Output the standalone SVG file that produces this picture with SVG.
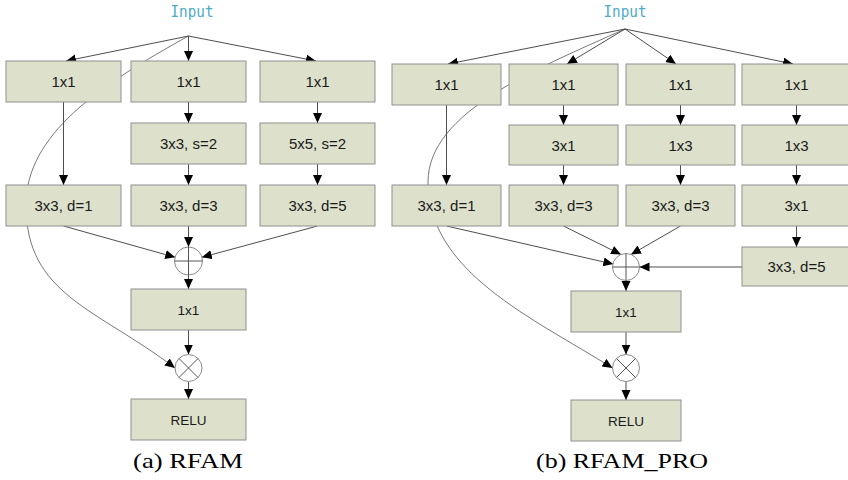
<svg xmlns="http://www.w3.org/2000/svg" width="848" height="480" viewBox="0 0 848 480">
<style>
.box{fill:#dde1cc;stroke:#8f8f8f;stroke-width:1}
.lbl{font-family:"Liberation Sans",Arial,sans-serif;font-size:15px;fill:#1a1a1a;text-anchor:middle}
.sm{font-size:13.5px}
.inp{font-family:"DejaVu Sans Mono",monospace;font-size:16px;fill:#4bacc6;text-anchor:middle}
.cap{font-family:"Liberation Serif","Times New Roman",serif;font-size:21.5px;fill:#000;text-anchor:middle}
.ln{fill:none;stroke:#3a3a3a;stroke-width:0.9;marker-end:url(#ah)}
.cv{fill:none;stroke:#555;stroke-width:0.8;marker-end:url(#ah)}
.op{fill:#fff;stroke:#8a8a8a;stroke-width:1}
.opl{stroke:#555;stroke-width:1}
</style>
<defs>
<marker id="ah" markerUnits="userSpaceOnUse" markerWidth="11" markerHeight="10" refX="10" refY="4.5" orient="auto" viewBox="0 0 11 10">
<path d="M0,0 L10,4.5 L0,9 z" fill="#000"/>
</marker>
</defs>
<rect width="848" height="480" fill="#fff"/>

<g id="connectors">
<!-- (a) -->
<path class="ln" d="M188.5,36 L66,61"/>
<path class="ln" d="M188.5,36 L188.5,61"/>
<path class="ln" d="M188.5,36 L316,61"/>
<path class="ln" d="M63.5,102 L63.5,185"/>
<path class="ln" d="M188.5,102 L188.5,123"/>
<path class="ln" d="M188.5,164 L188.5,185"/>
<path class="ln" d="M317.5,102 L317.5,123"/>
<path class="ln" d="M317.5,164 L317.5,185"/>
<path class="ln" d="M63.5,226 L175.2,257.3"/>
<path class="ln" d="M188.5,226 L188.5,247"/>
<path class="ln" d="M317.5,226 L201.8,257.3"/>
<path class="ln" d="M188.5,275 L188.5,289"/>
<path class="ln" d="M188.5,330 L188.5,354.5"/>
<path class="ln" d="M188.5,382 L188.5,399"/>
<path class="cv" d="M188.5,36 C98,86 26,135 26,205 C26,295 96,308 175,368"/>
<!-- (b) -->
<path class="ln" d="M625,29 L448,64"/>
<path class="ln" d="M625,29 L567,64"/>
<path class="ln" d="M625,29 L676,64"/>
<path class="ln" d="M625,29 L793,64"/>
<path class="ln" d="M446.5,105 L446.5,185"/>
<path class="ln" d="M563.5,105 L563.5,125"/>
<path class="ln" d="M563.5,165 L563.5,185"/>
<path class="ln" d="M680.5,105 L680.5,125"/>
<path class="ln" d="M680.5,165 L680.5,185"/>
<path class="ln" d="M796.5,105 L796.5,125"/>
<path class="ln" d="M796.5,165 L796.5,185"/>
<path class="ln" d="M796.5,226 L796.5,247"/>
<path class="ln" d="M446.5,226 L613.3,264.1"/>
<path class="ln" d="M563.5,226 L621,254.5"/>
<path class="ln" d="M680.5,226 L631,254.5"/>
<path class="ln" d="M742,267 L639.5,267"/>
<path class="ln" d="M626,280.5 L626,291"/>
<path class="ln" d="M626,332 L626,354.5"/>
<path class="ln" d="M626,381.5 L626,400"/>
<path class="cv" d="M625,29 C536,69 428,112 428,182 C428,272 533,318 612.5,368"/>
</g>

<g id="a-input"><text class="inp" x="192" y="17" textLength="43" lengthAdjust="spacingAndGlyphs">Input</text></g>
<g id="a-b1-1x1"><rect class="box" x="6" y="61" width="115" height="41"/><text class="lbl" x="63.5" y="87">1x1</text></g>
<g id="a-b2-1x1"><rect class="box" x="131" y="61" width="115" height="41"/><text class="lbl" x="188.5" y="87">1x1</text></g>
<g id="a-b3-1x1"><rect class="box" x="260" y="61" width="115" height="41"/><text class="lbl" x="317.5" y="87">1x1</text></g>
<g id="a-b2-s2"><rect class="box" x="131" y="123" width="115" height="41"/><text class="lbl" x="188.5" y="149">3x3, s=2</text></g>
<g id="a-b3-s2"><rect class="box" x="260" y="123" width="115" height="41"/><text class="lbl" x="317.5" y="149">5x5, s=2</text></g>
<g id="a-b1-d1"><rect class="box" x="6" y="185" width="115" height="41"/><text class="lbl" x="63.5" y="211">3x3, d=1</text></g>
<g id="a-b2-d3"><rect class="box" x="131" y="185" width="115" height="41"/><text class="lbl" x="188.5" y="211">3x3, d=3</text></g>
<g id="a-b3-d5"><rect class="box" x="260" y="185" width="115" height="41"/><text class="lbl" x="317.5" y="211">3x3, d=5</text></g>
<g id="a-plus"><circle class="op" cx="188.5" cy="261" r="14"/><path class="opl" d="M174.5,261 H202.5 M188.5,247 V275"/></g>
<g id="a-conv"><rect class="box" x="131" y="289" width="115" height="41"/><text class="lbl sm" x="188.5" y="314.5">1x1</text></g>
<g id="a-times"><circle class="op" cx="188.5" cy="368" r="13.5"/><path class="opl" d="M178.95,358.45 L198.05,377.55 M198.05,358.45 L178.95,377.55"/></g>
<g id="a-relu"><rect class="box" x="131" y="399" width="115" height="41"/><text class="lbl sm" x="188.5" y="424.5">RELU</text></g>
<g id="a-caption"><text class="cap" x="188" y="467.5" textLength="110" lengthAdjust="spacingAndGlyphs">(a) RFAM</text></g>

<g id="b-input"><text class="inp" x="625" y="17" textLength="43" lengthAdjust="spacingAndGlyphs">Input</text></g>
<g id="b-a-1x1"><rect class="box" x="392" y="64" width="109" height="41"/><text class="lbl" x="446.5" y="90">1x1</text></g>
<g id="b-b-1x1"><rect class="box" x="509" y="64" width="109" height="41"/><text class="lbl" x="563.5" y="90">1x1</text></g>
<g id="b-c-1x1"><rect class="box" x="626" y="64" width="109" height="41"/><text class="lbl" x="680.5" y="90">1x1</text></g>
<g id="b-d-1x1"><rect class="box" x="742" y="64" width="109" height="41"/><text class="lbl" x="796.5" y="90">1x1</text></g>
<g id="b-b-3x1"><rect class="box" x="509" y="125" width="109" height="40"/><text class="lbl" x="563.5" y="150.5">3x1</text></g>
<g id="b-c-1x3"><rect class="box" x="626" y="125" width="109" height="40"/><text class="lbl" x="680.5" y="150.5">1x3</text></g>
<g id="b-d-1x3"><rect class="box" x="742" y="125" width="109" height="40"/><text class="lbl" x="796.5" y="150.5">1x3</text></g>
<g id="b-a-d1"><rect class="box" x="392" y="185" width="109" height="41"/><text class="lbl" x="446.5" y="211">3x3, d=1</text></g>
<g id="b-b-d3"><rect class="box" x="509" y="185" width="109" height="41"/><text class="lbl" x="563.5" y="211">3x3, d=3</text></g>
<g id="b-c-d3"><rect class="box" x="626" y="185" width="109" height="41"/><text class="lbl" x="680.5" y="211">3x3, d=3</text></g>
<g id="b-d-3x1"><rect class="box" x="742" y="185" width="109" height="41"/><text class="lbl" x="796.5" y="211">3x1</text></g>
<g id="b-d-d5"><rect class="box" x="742" y="247" width="109" height="39"/><text class="lbl" x="796.5" y="272">3x3, d=5</text></g>
<g id="b-plus"><circle class="op" cx="626" cy="267" r="13.5"/><path class="opl" d="M612.5,267 H639.5 M626,253.5 V280.5"/></g>
<g id="b-conv"><rect class="box" x="571" y="291" width="110" height="41"/><text class="lbl sm" x="626" y="316.5">1x1</text></g>
<g id="b-times"><circle class="op" cx="626" cy="368" r="13.5"/><path class="opl" d="M616.45,358.45 L635.55,377.55 M635.55,358.45 L616.45,377.55"/></g>
<g id="b-relu"><rect class="box" x="571" y="400" width="110" height="41"/><text class="lbl sm" x="626" y="425.5">RELU</text></g>
<g id="b-caption"><text class="cap" x="622" y="467.5" textLength="172" lengthAdjust="spacingAndGlyphs">(b) RFAM_PRO</text></g>
</svg>
